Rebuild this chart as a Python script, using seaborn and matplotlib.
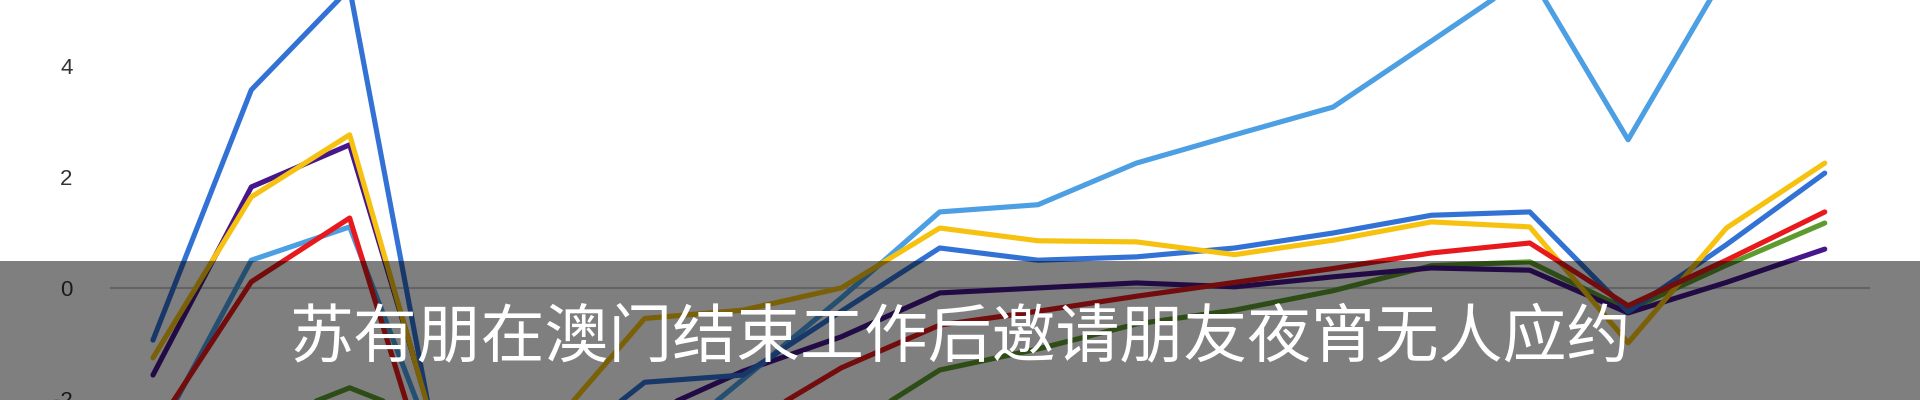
import numpy as np
import pandas as pd
import matplotlib
matplotlib.use('Agg')
import matplotlib.pyplot as plt
import seaborn as sns
from matplotlib.patches import Rectangle

# 18 points along the x axis (no labels shown on the chart)
points = list(range(18))

light_blue = [-2.8, 0.5, 1.1, -3.5, -3.5, -3.1, -1.65, -0.18, 1.37, 1.5,
              2.25, 2.76, 3.26, 4.45, 5.65, 2.67, 5.7, 6.2]
dark_blue = [-0.94, 3.57, 5.4, -4.0, -3.1, -1.7, -1.57, -0.42, 0.72, 0.5,
             0.56, 0.72, 0.99, 1.31, 1.37, -0.43, 0.78, 2.07]
yellow = [-1.26, 1.64, 2.76, -3.4, -2.6, -0.55, -0.4, 0.0, 1.08, 0.85,
          0.83, 0.6, 0.86, 1.19, 1.1, -0.99, 1.08, 2.25]
purple = [-1.57, 1.82, 2.58, -3.3, -3.0, -2.3, -1.5, -0.88, -0.09, 0.0,
          0.09, 0.02, 0.2, 0.36, 0.32, -0.45, 0.1, 0.7]
red = [-2.6, 0.11, 1.26, -4.5, -3.8, -3.2, -2.5, -1.44, -0.67, -0.42,
       -0.15, 0.1, 0.35, 0.63, 0.81, -0.32, 0.5, 1.37]
green = [-3.0, -2.5, -1.8, -2.5, -3.2, -3.3, -3.2, -2.6, -1.48, -1.1,
         -0.65, -0.4, -0.05, 0.4, 0.47, -0.4, 0.41, 1.17]

y_ticks = [-2, 0, 2, 4]
caption = '苏有朋在澳门结束工作后邀请朋友夜宵无人应约'

series = {
    'green': green,
    'purple': purple,
    'light_blue': light_blue,
    'dark_blue': dark_blue,
    'yellow': yellow,
    'red': red,
}
palette = {
    'green': '#5e9a2e',
    'purple': '#46168a',
    'light_blue': '#4c9fe3',
    'dark_blue': '#3272d4',
    'yellow': '#f6c20f',
    'red': '#e8191c',
}

df = pd.concat(
    [pd.DataFrame({'point': points, 'value': v, 'series': k}) for k, v in series.items()],
    ignore_index=True,
)

sns.set_theme(style='white')
plt.rcParams['font.family'] = ['Noto Sans CJK SC', 'DejaVu Sans']

fig = plt.figure(figsize=(19.2, 4), dpi=100)
fig.patch.set_facecolor('white')
ax = fig.add_axes([110 / 1920, 0, 1760 / 1920, 1])

ax.axhline(0, color='#c8c8c8', lw=1.5, zorder=0)
sns.lineplot(data=df, x='point', y='value', hue='series', hue_order=list(series),
             palette=palette, linewidth=3.7, legend=False, ax=ax,
             solid_capstyle='round', solid_joinstyle='round')

ax.set_xlim(-0.437, 17.46)
ax.set_ylim(-2.02, 5.19)
ax.set_xticks([])
ax.set_yticks(y_ticks)
ax.set_yticklabels([str(t) for t in y_ticks], family=['Liberation Sans', 'DejaVu Sans'])
ax.tick_params(axis='y', length=0, pad=27, labelsize=16, labelcolor='#333333')
ax.set_xlabel('')
ax.set_ylabel('')
sns.despine(ax=ax, left=True, bottom=True)

# translucent caption banner across the bottom
fig.patches.append(Rectangle((0, 0), 1, 139 / 400, transform=fig.transFigure,
                             facecolor='black', alpha=0.5, edgecolor='none', zorder=5))
fig.text(0.5, 1 - 338 / 400, caption, color='white', fontsize=46,
         ha='center', va='center', zorder=6)

fig.savefig('out.png', dpi=100)
